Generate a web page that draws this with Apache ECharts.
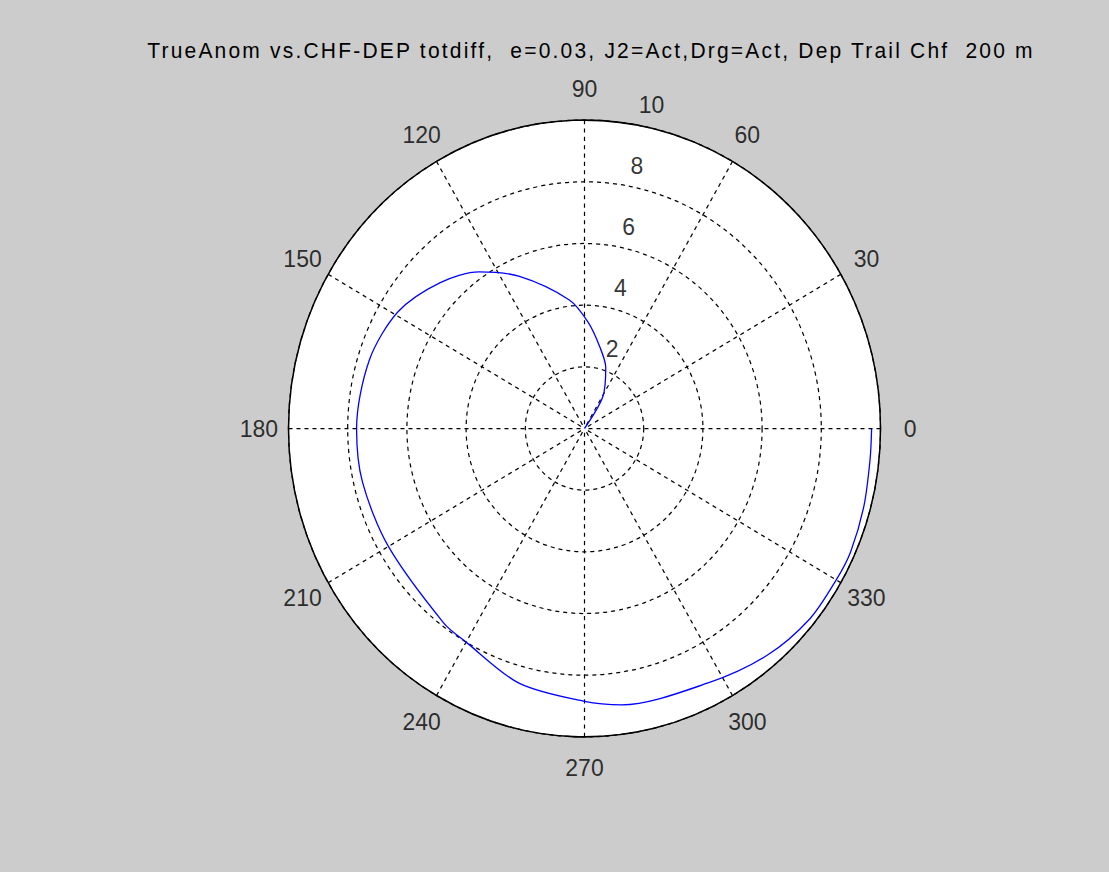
<!DOCTYPE html>
<html>
<head>
<meta charset="utf-8">
<title>TrueAnom vs. CHF-DEP totdiff</title>
<script src="https://cdn.jsdelivr.net/npm/echarts@6/dist/echarts.min.js"></script>
<style>
  html, body { margin: 0; padding: 0; background: #cccccc; overflow: hidden; }
  #wrap { width: 1109px; height: 872px; overflow: hidden; }
  /* the polar frame is slightly taller than wide, so the drawing is stretched vertically */
  #chart { width: 1109px; height: 837px; transform: scaleY(1.04182); transform-origin: 0 0; }
</style>
</head>
<body>
<div id="wrap"><div id="chart"></div></div>
<script>
const titleText = 'TrueAnom vs.CHF-DEP totdiff,  e=0.03, J2=Act,Drg=Act, Dep Trail Chf  200 m';

// true anomaly (deg) and total CHF-DEP difference
const trueAnomaly = [45, 59, 70, 79, 88, 97, 114, 125, 136, 149, 163, 180, 193, 210,
                     233, 240, 255, 270, 278, 297, 310, 321, 330, 336, 345, 354, 360];
const totDiff     = [0, 1.2, 2.1, 2.7, 3.45, 4.2, 5.4, 6.2, 6.8, 7.35, 7.6, 7.7, 7.7, 7.65,
                     7.9, 8.0, 8.55, 8.85, 9.05, 9.25, 9.6, 9.8, 9.82, 9.84, 9.77, 9.7, 9.7];

// tick labels
const angleTicks  = [0, 30, 60, 90, 120, 150, 180, 210, 240, 270, 300, 330];
const radiusTicks = [2, 4, 6, 8, 10];

const labelFont = "'Liberation Sans', Arial, sans-serif";
const CENTER = [584.5, 411.3];
const RADIUS = 296;

const chart = echarts.init(document.getElementById('chart'), null, { renderer: 'svg' });

chart.setOption({
  animation: false,
  backgroundColor: '#cccccc',
  title: {
    text: titleText,
    left: 586,
    top: 33,
    textAlign: 'center',
    textStyle: { color: '#000', fontSize: 21, fontWeight: 'normal', fontFamily: labelFont }
  },
  // polar 0: white plotting disk underneath; polar 1: rings, spokes and frame on top
  polar: [
    { center: CENTER, radius: RADIUS },
    { center: CENTER, radius: RADIUS }
  ],
  angleAxis: [
    {
      polarIndex: 0, z: 0,
      type: 'value', min: 0, max: 360, interval: 30, startAngle: 0, clockwise: false,
      axisLine: { show: false }, axisTick: { show: false }, axisLabel: { show: false },
      splitLine: { show: false }
    },
    {
      polarIndex: 1, z: 1,
      type: 'value', min: 0, max: 360, interval: 30, startAngle: 0, clockwise: false,
      axisLine: { show: true, lineStyle: { color: '#000', width: 1.5 } },
      axisTick: { show: false },
      axisLabel: { show: false },
      splitLine: { show: true, lineStyle: { color: '#000', width: 1.2, type: [4, 4] } }
    }
  ],
  radiusAxis: [
    {
      polarIndex: 0, z: 0,
      type: 'value', min: 0, max: 10, interval: 2,
      axisLine: { show: false }, axisTick: { show: false }, axisLabel: { show: false },
      splitLine: { show: false },
      splitArea: { show: true, areaStyle: { color: ['#ffffff', '#ffffff'] } }
    },
    {
      polarIndex: 1, z: 1,
      type: 'value', min: 0, max: 10, interval: 2,
      axisLine: { show: false }, axisTick: { show: false }, axisLabel: { show: false },
      splitLine: { show: true, lineStyle: { color: '#000', width: 1.2, type: [4, 4] } },
      splitArea: { show: false }
    }
  ],
  series: [
    {
      name: 'totdiff',
      type: 'line',
      coordinateSystem: 'polar',
      polarIndex: 1,
      data: trueAnomaly.map((a, i) => [totDiff[i], a]),
      showSymbol: false,
      smooth: 0.3,
      lineStyle: { color: '#0000ff', width: 1.3 },
      z: 5
    },
    {
      // angle tick labels, centred at 1.1 x the outer radius
      name: 'angleLabels',
      type: 'scatter',
      coordinateSystem: 'polar',
      polarIndex: 1,
      clip: false,
      symbolSize: 0,
      silent: true,
      data: angleTicks.map(a => [11, a]),
      label: {
        show: true, position: 'inside',
        formatter: p => String(p.value[1]),
        color: '#000', fontSize: 23, fontFamily: labelFont
      }
    },
    {
      // radius tick labels along the 82 degree direction
      name: 'radiusLabels',
      type: 'scatter',
      coordinateSystem: 'polar',
      polarIndex: 1,
      clip: false,
      symbolSize: 0,
      silent: true,
      data: radiusTicks.map(r => [r, 82]),
      label: {
        show: true, position: 'right', distance: 13, offset: [0, -18],
        formatter: p => String(p.value[0]),
        color: '#000', fontSize: 23, fontFamily: labelFont
      }
    }
  ]
});

// spread the title letters out a little
function spaceTitle() {
  document.querySelectorAll('#chart svg text').forEach(t => {
    if (t.textContent === titleText) t.style.letterSpacing = '2.2px';
  });
}
spaceTitle();
chart.on('finished', spaceTitle);
</script>
</body>
</html>
